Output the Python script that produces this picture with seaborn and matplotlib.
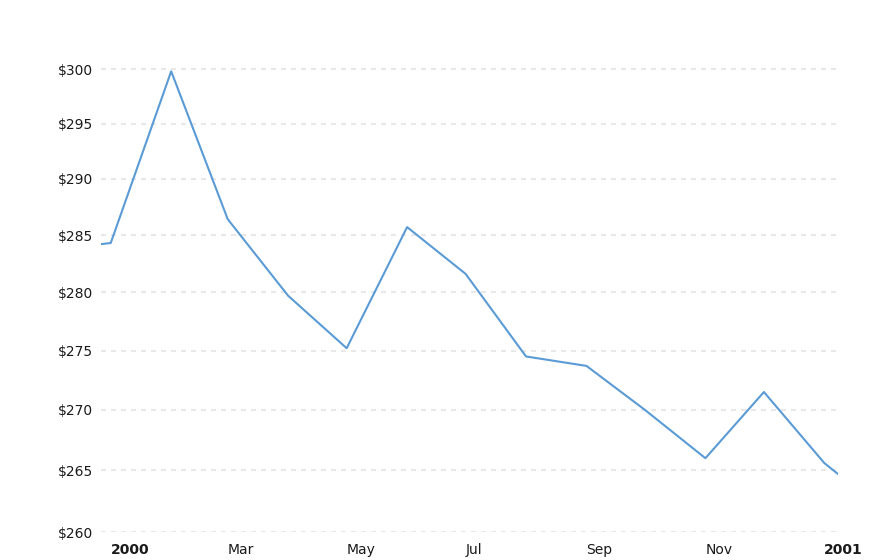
"""
Gold price in 2000, monthly averages on a log scale.
Saves out.png (888x560).
"""
import pandas as pd
import matplotlib
matplotlib.use("Agg")
import matplotlib.pyplot as plt
import matplotlib.ticker as ticker
import seaborn as sns

# Data
DATES = ["1999-12-27", "2000-01-01", "2000-02-01", "2000-03-01", "2000-04-01",
         "2000-05-01", "2000-06-01", "2000-07-01", "2000-08-01", "2000-09-01",
         "2000-10-01", "2000-11-01", "2000-12-01", "2001-01-01", "2001-01-08"]
PRICES = [284.2, 284.3, 299.8, 286.4, 279.7,
          275.2, 285.7, 281.6, 274.5, 273.7,
          270.0, 266.0, 271.5, 265.6, 264.7]

Y_TICKS = [260, 265, 270, 275, 280, 285, 290, 295, 300]
X_TICKS = ["2000-01-01", "2000-03-01", "2000-05-01", "2000-07-01",
           "2000-09-01", "2000-11-01", "2001-01-01"]
X_LABELS = ["2000", "Mar", "May", "Jul", "Sep", "Nov", "2001"]

LINE_BLUE = "#5b9bd5"
GRID_GREY = "#e8e8e8"
TEXT_DARK = "#1a1a1a"

sns.set_theme(style="white")
plt.rcParams["font.family"] = ["DejaVu Sans"]


def main():
    df = pd.DataFrame({"date": pd.to_datetime(DATES), "price": PRICES})

    fig = plt.figure(figsize=(8.88, 5.6), dpi=100)
    ax = fig.add_axes([101 / 888, 28 / 560, 737 / 888, 505.7 / 560])

    sns.lineplot(data=df, x="date", y="price", color=LINE_BLUE, linewidth=1.5, ax=ax)

    # log scale y axis, like the reference
    ax.set_yscale("log")
    ax.set_ylim(260, 304)
    ax.yaxis.set_major_locator(ticker.FixedLocator(Y_TICKS))
    ax.yaxis.set_major_formatter(ticker.FuncFormatter(lambda v, p: f"${v:.0f}"))
    ax.yaxis.set_minor_locator(ticker.NullLocator())
    ax.yaxis.set_minor_formatter(ticker.NullFormatter())

    ax.set_xlim(df["date"].min(), df["date"].max())
    ax.set_xticks(pd.to_datetime(X_TICKS))
    ax.set_xticklabels(X_LABELS)
    for lab in ax.get_xticklabels():
        lab.set_horizontalalignment("left")
        if lab.get_text().isdigit():
            lab.set_fontweight("bold")

    ax.tick_params(axis="y", length=0, pad=6, labelsize=10, labelcolor=TEXT_DARK)
    ax.tick_params(axis="x", length=0, pad=8, labelsize=10, labelcolor=TEXT_DARK)

    ax.yaxis.grid(True, color=GRID_GREY, linestyle=(0, (2.4, 2.4)), linewidth=1.5)
    ax.xaxis.grid(False)
    ax.set_axisbelow(True)
    for s in ax.spines.values():
        s.set_visible(False)

    ax.set_xlabel("")
    ax.set_ylabel("")

    fig.savefig("out.png", dpi=100)
    plt.close(fig)


if __name__ == "__main__":
    main()
